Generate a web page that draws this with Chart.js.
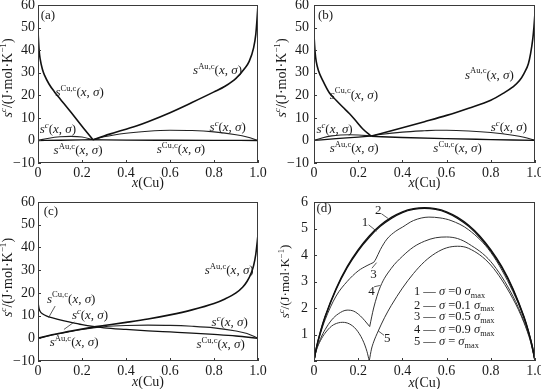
<!DOCTYPE html>
<html>
<head>
<meta charset="utf-8">
<script src="https://cdn.jsdelivr.net/npm/chart.js@4.4.1/dist/chart.umd.min.js"></script>
<style>
  html, body { margin: 0; padding: 0; background: #fff; }
  #wrap { position: relative; width: 541px; height: 389px; overflow: hidden; }
  #wrap canvas { position: absolute; left: 0; top: 0; }
</style>
</head>
<body>
<div id="wrap">
  <canvas id="pa" width="541" height="389"></canvas>
  <canvas id="pb" width="541" height="389"></canvas>
  <canvas id="pc" width="541" height="389"></canvas>
  <canvas id="pd" width="541" height="389"></canvas>
</div>
<script>
// tick labels
const xTicks = [0, 0.2, 0.4, 0.6, 0.8, 1.0];
const yTicksS = [-10, 0, 10, 20, 30, 40, 50, 60];
const yTicksD = [0, 1, 2, 3, 4, 5, 6];

// (a)
const aCuLX = [0, 0.005, 0.01, 0.02, 0.03, 0.05, 0.075, 0.1, 0.15, 0.2, 0.25];
const aCuLY = [48.5, 40, 36, 31.5, 28.8, 25, 21.5, 18.5, 12.5, 6.3, 0.3];
const aCuRX = [0.25, 0.4, 0.6, 0.8, 1.0];
const aCuRY = [0.3, 0.15, 0.08, 0.03, 0];
const aAuLX = [0, 0.1, 0.25];
const aAuLY = [0, 0.1, 0.3];
const aAuRX = [0.25, 0.3, 0.35, 0.4, 0.45, 0.5, 0.6, 0.7, 0.8, 0.85, 0.9, 0.94, 0.96, 0.98, 0.99, 0.995, 1.0];
const aAuRY = [0.3, 2.0, 3.5, 5.0, 6.5, 8.3, 12.3, 16.8, 21.5, 24.0, 27.5, 32.0, 35.0, 41.0, 47.0, 53.0, 60];
const aScLX = [0, 0.05, 0.1, 0.15, 0.2, 0.25];
const aScLY = [0, 1.0, 1.6, 1.8, 1.5, 0.3];
const aScRX = [0.25, 0.3, 0.4, 0.5, 0.6, 0.7, 0.8, 0.9, 0.95, 1.0];
const aScRY = [0.3, 1.6, 3.2, 4.1, 4.5, 4.4, 3.8, 2.5, 1.5, 0];

// (b)
const bCuLX = [0, 0.005, 0.01, 0.02, 0.04, 0.07, 0.1, 0.13, 0.16, 0.19, 0.22, 0.26];
const bCuLY = [46.5, 39, 35, 31, 26.5, 21, 17.8, 14.8, 11.9, 8.6, 5.2, 1.8];
const bCuRX = [0.26, 0.4, 0.6, 0.8, 1.0];
const bCuRY = [1.8, 1.3, 0.8, 0.4, 0];
const bAuLX = [0, 0.1, 0.2, 0.26];
const bAuLY = [0, 0.8, 1.5, 2.0];
const bAuRX = [0.26, 0.3, 0.4, 0.5, 0.6, 0.7, 0.8, 0.85, 0.9, 0.93, 0.95, 0.97, 0.98, 0.99, 0.995, 1.0];
const bAuRY = [2.0, 3.0, 5.6, 8.3, 11.1, 14.3, 17.8, 20.5, 23.7, 26.5, 29.6, 34, 38.5, 45, 50, 56.5];
const bScLX = [0, 0.04, 0.08, 0.12, 0.16, 0.2, 0.26];
const bScLY = [0, 1.2, 2.0, 2.4, 2.5, 2.4, 2.0];
const bScRX = [0.26, 0.3, 0.4, 0.5, 0.55, 0.6, 0.7, 0.8, 0.9, 0.95, 1.0];
const bScRY = [2.0, 2.6, 3.7, 4.3, 4.5, 4.5, 4.2, 3.5, 2.3, 1.4, 0];

// (c)
const cCuX = [0, 0.005, 0.01, 0.02, 0.04, 0.07, 0.1, 0.15, 0.2, 0.25, 0.3, 0.4, 0.5, 0.6, 0.7, 0.8, 0.9, 1.0];
const cCuY = [16, 13, 11.8, 10.8, 9.8, 8.9, 8.1, 7.0, 6.0, 5.2, 4.6, 3.9, 3.3, 2.8, 2.3, 1.7, 1.0, 0];
const cAuX = [0, 0.05, 0.1, 0.15, 0.2, 0.25, 0.3, 0.4, 0.5, 0.6, 0.7, 0.8, 0.85, 0.9, 0.93, 0.95, 0.97, 0.98, 0.99, 1.0];
const cAuY = [0, 1.2, 2.2, 3.2, 4.1, 4.9, 5.6, 7.0, 8.5, 10.3, 12.5, 15.3, 17.3, 20.0, 22.5, 25, 29, 32, 37, 45.5];
const cScX = [0, 0.05, 0.1, 0.15, 0.2, 0.25, 0.3, 0.4, 0.5, 0.6, 0.7, 0.8, 0.9, 0.95, 1.0];
const cScY = [0, 1.1, 2.1, 3.0, 3.9, 4.6, 5.1, 5.6, 5.8, 5.7, 5.3, 4.6, 3.2, 2.1, 0];

// (d)
const dX12 = [0, 0.01, 0.03, 0.05, 0.1, 0.15, 0.2, 0.25, 0.3, 0.35, 0.4, 0.45, 0.5, 0.55, 0.6, 0.65, 0.7, 0.75, 0.8, 0.85, 0.9, 0.95, 0.97, 0.99, 1.0];
const dY1 = [0, 0.47, 1.12, 1.65, 2.70, 3.52, 4.16, 4.67, 5.08, 5.38, 5.60, 5.72, 5.76, 5.72, 5.60, 5.38, 5.08, 4.67, 4.16, 3.52, 2.70, 1.65, 1.12, 0.47, 0];
const dY2 = [0, 0.48, 1.14, 1.68, 2.74, 3.56, 4.20, 4.72, 5.12, 5.42, 5.63, 5.75, 5.79, 5.75, 5.63, 5.42, 5.12, 4.72, 4.20, 3.56, 2.74, 1.68, 1.14, 0.48, 0];
const d3LX = [0, 0.01, 0.03, 0.05, 0.1, 0.15, 0.2, 0.24, 0.27];
const d3LY = [0, 0.45, 1.05, 1.55, 2.45, 3.0, 3.4, 3.6, 3.72];
const d3RX = [0.27, 0.28, 0.3, 0.33, 0.37, 0.4, 0.45, 0.52, 0.57, 0.62, 0.7, 0.8, 0.9, 0.95, 0.98, 1.0];
const d3RY = [3.72, 3.85, 4.2, 4.6, 4.9, 5.05, 5.3, 5.43, 5.4, 5.3, 4.95, 4.1, 2.62, 1.62, 0.8, 0];
const d4LX = [0, 0.01, 0.03, 0.05, 0.08, 0.11, 0.15, 0.18, 0.21, 0.23, 0.252];
const d4LY = [0, 0.4, 0.85, 1.18, 1.55, 1.78, 1.92, 1.88, 1.7, 1.52, 1.3];
const d4RX = [0.252, 0.27, 0.3, 0.35, 0.4, 0.45, 0.5, 0.55, 0.6, 0.65, 0.7, 0.8, 0.9, 0.95, 0.98, 1.0];
const d4RY = [1.3, 2.0, 2.8, 3.5, 3.95, 4.3, 4.52, 4.65, 4.68, 4.62, 4.42, 3.75, 2.45, 1.5, 0.75, 0];
const d5LX = [0, 0.01, 0.03, 0.05, 0.08, 0.11, 0.13, 0.16, 0.19, 0.22, 0.24, 0.25];
const d5LY = [0, 0.38, 0.78, 1.05, 1.32, 1.44, 1.46, 1.4, 1.2, 0.8, 0.35, 0];
const d5RX = [0.25, 0.26, 0.27, 0.29, 0.32, 0.35, 0.4, 0.45, 0.5, 0.55, 0.6, 0.65, 0.7, 0.8, 0.9, 0.95, 0.98, 1.0];
const d5RY = [0, 0.45, 0.72, 1.12, 1.65, 2.1, 2.75, 3.3, 3.75, 4.07, 4.27, 4.33, 4.25, 3.62, 2.35, 1.45, 0.72, 0];

const SERIF = '"Liberation Serif", "Times New Roman", serif';

// text with *italic*, ^{sup} and _{sub}
function parseRich(s) {
  const out = [];
  let it = false, i = 0;
  while (i < s.length) {
    const c = s[i];
    if (c === '*') { it = !it; i++; continue; }
    if ((c === '^' || c === '_') && s[i + 1] === '{') {
      const j = s.indexOf('}', i);
      let t = s.slice(i + 2, j);
      const sit = t.startsWith('*');
      t = t.replace(/\*/g, '');
      out.push({ t, mode: c === '^' ? 'sup' : 'sub', it: sit });
      i = j + 1;
      continue;
    }
    const last = out[out.length - 1];
    if (last && last.mode === 'n' && last.it === it) last.t += c;
    else out.push({ t: c, mode: 'n', it });
    i++;
  }
  return out;
}

function segFont(seg, size) {
  const sz = seg.mode === 'n' ? size : size * 0.66;
  return (seg.it ? 'italic ' : '') + sz.toFixed(1) + 'px ' + SERIF;
}

function richWidth(ctx, segs, size) {
  let w = 0;
  segs.forEach(sg => { ctx.font = segFont(sg, size); w += ctx.measureText(sg.t).width; });
  return w;
}

function drawRich(ctx, x, y, text, size) {
  const segs = parseRich(text);
  ctx.textBaseline = 'alphabetic';
  ctx.textAlign = 'left';
  segs.forEach(sg => {
    ctx.font = segFont(sg, size);
    let dy = 0;
    if (sg.mode === 'sup') dy = -size * 0.4;
    if (sg.mode === 'sub') dy = size * 0.22;
    ctx.fillText(sg.t, x, y + dy);
    x += ctx.measureText(sg.t).width;
  });
}

const decor = {
  id: 'decor',
  afterDraw(chart, args, o) {
    const { ctx, chartArea: ca } = chart;
    const sx = chart.scales.x, sy = chart.scales.y;
    ctx.save();
    ctx.strokeStyle = '#3a3a3a';
    ctx.lineWidth = 1;
    ctx.strokeRect(ca.left + 0.5, ca.top + 0.5, ca.right - ca.left - 1, ca.bottom - ca.top - 1);
    ctx.beginPath();
    o.xt.forEach(v => {
      const px = Math.round(sx.getPixelForValue(v)) + 0.5;
      ctx.moveTo(px, ca.bottom); ctx.lineTo(px, ca.bottom - 3);
    });
    o.yt.forEach(v => {
      const py = Math.round(sy.getPixelForValue(v)) + 0.5;
      ctx.moveTo(ca.left, py); ctx.lineTo(ca.left + 3, py);
    });
    ctx.stroke();

    ctx.fillStyle = '#1a1a1a';
    ctx.strokeStyle = '#333';
    ctx.lineWidth = 0.8;
    (o.leaders || []).forEach(l => {
      ctx.beginPath();
      ctx.moveTo(sx.getPixelForValue(l[0]), sy.getPixelForValue(l[1]));
      ctx.lineTo(sx.getPixelForValue(l[2]), sy.getPixelForValue(l[3]));
      ctx.stroke();
    });
    (o.labels || []).forEach(l => {
      drawRich(ctx, sx.getPixelForValue(l.x), sy.getPixelForValue(l.y), l.t, l.size || 13);
    });

    // axis titles
    const xt = parseRich(o.xTitle);
    const xw = richWidth(ctx, xt, 14);
    drawRich(ctx, (ca.left + ca.right) / 2 - xw / 2, ca.bottom + o.xTitleGap, o.xTitle, 14);

    const yt = parseRich(o.yTitle);
    const yw = richWidth(ctx, yt, o.yTitleSize);
    ctx.translate(ca.left - o.yTitleGap, (ca.top + ca.bottom) / 2 + o.yTitleShift);
    ctx.rotate(-Math.PI / 2);
    drawRich(ctx, -yw / 2, 4, o.yTitle, o.yTitleSize);
    ctx.restore();
  }
};

function pts(xs, ys) {
  return xs.map((x, i) => ({ x, y: ys[i] }));
}

function line(xs, ys, w, col) {
  return {
    data: pts(xs, ys),
    borderColor: col || '#111',
    borderWidth: w,
    pointRadius: 0,
    fill: false,
    tension: 0.4,
    cubicInterpolationMode: 'monotone'
  };
}

function makePanel(id, box, yMin, yMax, yTicks, datasets, deco) {
  const yFmt = v => (v < 0 ? '\u2212' + Math.abs(v) : (v === 0 && box.noY0 ? '' : String(v)));
  const xFmt = v => (v === 0 ? '0' : v.toFixed(1));
  return new Chart(document.getElementById(id), {
    type: 'line',
    data: { datasets },
    options: {
      responsive: false,
      animation: false,
      layout: {
        padding: { left: box.l - 30, top: box.t, right: 541 - box.r, bottom: 389 - box.b - 20 }
      },
      plugins: {
        legend: { display: false },
        tooltip: { enabled: false },
        decor: Object.assign({ xt: xTicks, yt: yTicks }, deco)
      },
      scales: {
        x: {
          type: 'linear', min: 0, max: 1,
          grid: { display: false, drawTicks: false }, border: { display: false },
          afterBuildTicks: s => { s.ticks = xTicks.map(v => ({ value: v })); },
          afterFit: s => { s.height = 20; s.paddingLeft = 0; s.paddingRight = 0; },
          ticks: {
            padding: 2, maxRotation: 0, autoSkip: false,
            color: '#1a1a1a', font: { family: SERIF, size: 14 },
            callback: xFmt
          }
        },
        y: {
          type: 'linear', min: yMin, max: yMax,
          grid: { display: false, drawTicks: false }, border: { display: false },
          afterBuildTicks: s => { s.ticks = yTicks.map(v => ({ value: v })); },
          afterFit: s => { s.width = 30; s.paddingTop = 0; s.paddingBottom = 0; },
          ticks: {
            padding: box.yPad, autoSkip: false,
            color: '#1a1a1a', font: { family: SERIF, size: 14 },
            callback: yFmt
          }
        }
      }
    },
    plugins: [decor]
  });
}

const CU = '*s*^{Cu,c}(*x*, *σ*)';
const AU = '*s*^{Au,c}(*x*, *σ*)';
const SC = '*s*^{*c*}(*x*, *σ*)';
const YT = '*s*^{*c*}/(J·mol·K^{−1})';

makePanel('pa', { l: 38, t: 5, r: 258, b: 163, yPad: 3 }, -10, 60, yTicksS, [
  line(aCuLX, aCuLY, 1.6), line(aCuRX, aCuRY, 1.4),
  line(aAuLX, aAuLY, 1.4), line(aAuRX, aAuRY, 1.6),
  line(aScLX, aScLY, 1.1, '#222'), line(aScRX, aScRY, 1.1, '#222')
], {
  xTitle: '*x*(Cu)', xTitleGap: 24, yTitle: YT, yTitleSize: 14, yTitleGap: 30, yTitleShift: -6,
  labels: [
    { x: 0.012, y: 54, t: '(a)' },
    { x: 0.079, y: 19.6, t: CU },
    { x: 0.705, y: 29.3, t: AU },
    { x: 0.008, y: 3.3, t: SC },
    { x: 0.071, y: -6.2, t: AU },
    { x: 0.78, y: 4.1, t: SC },
    { x: 0.54, y: -5.6, t: CU }
  ]
});

makePanel('pb', { l: 314, t: 5, r: 535, b: 163, yPad: 5 }, -10, 60, yTicksS, [
  line(bCuLX, bCuLY, 1.6), line(bCuRX, bCuRY, 1.3),
  line(bAuLX, bAuLY, 1.3), line(bAuRX, bAuRY, 1.6),
  line(bScLX, bScLY, 1.1, '#222'), line(bScRX, bScRY, 1.1, '#222')
], {
  xTitle: '*x*(Cu)', xTitleGap: 24, yTitle: YT, yTitleSize: 14, yTitleGap: 32, yTitleShift: -6,
  labels: [
    { x: 0.018, y: 54, t: '(b)' },
    { x: 0.071, y: 18.5, t: CU },
    { x: 0.683, y: 27.4, t: AU },
    { x: 0.011, y: 3.3, t: SC },
    { x: 0.071, y: -5.2, t: AU },
    { x: 0.80, y: 4.1, t: SC },
    { x: 0.54, y: -5.2, t: CU }
  ]
});

makePanel('pc', { l: 38, t: 202, r: 258, b: 361, yPad: 3 }, -10, 60, yTicksS, [
  line(cCuX, cCuY, 1.3), line(cAuX, cAuY, 1.6), line(cScX, cScY, 1.1, '#222')
], {
  xTitle: '*x*(Cu)', xTitleGap: 25, yTitle: YT, yTitleSize: 14, yTitleGap: 30, yTitleShift: -4,
  labels: [
    { x: 0.026, y: 54.2, t: '(c)' },
    { x: 0.041, y: 15.7, t: CU },
    { x: 0.154, y: 8.3, t: SC },
    { x: 0.053, y: -3.4, t: AU },
    { x: 0.758, y: 28.1, t: AU },
    { x: 0.789, y: 5.4, t: SC },
    { x: 0.72, y: -4.4, t: CU }
  ],
  leaders: [[0.078, 14.2, 0.048, 9.1], [0.165, 7.2, 0.118, 3.9]]
});

makePanel('pd', { l: 314, t: 202, r: 535, b: 361, yPad: 6, noY0: true }, 0, 6, yTicksD, [
  line(dX12, dY1, 1.3), line(dX12, dY2, 1.3),
  line(d3LX, d3LY, 1, '#333'), line(d3RX, d3RY, 1, '#333'),
  line(d4LX, d4LY, 1, '#333'), line(d4RX, d4RY, 1, '#333'),
  line(d5LX, d5LY, 1, '#333'), line(d5RX, d5RY, 1, '#333')
], {
  xTitle: '*x*(Cu)', xTitleGap: 26, yTitle: YT, yTitleSize: 13, yTitleGap: 29, yTitleShift: 0,
  labels: [
    { x: 0.011, y: 5.62, t: '(d)' },
    { x: 0.276, y: 5.55, t: '2' },
    { x: 0.216, y: 5.11, t: '1' },
    { x: 0.254, y: 3.12, t: '3' },
    { x: 0.246, y: 2.49, t: '4' },
    { x: 0.317, y: 0.72, t: '5' },
    { x: 0.452, y: 2.49, t: '1 — *σ* =0 *σ*_{max}', size: 12.5 },
    { x: 0.452, y: 1.98, t: '2 — *σ* =0.1 *σ*_{max}', size: 12.5 },
    { x: 0.452, y: 1.54, t: '3 — *σ* =0.5 *σ*_{max}', size: 12.5 },
    { x: 0.452, y: 1.04, t: '4 — *σ* =0.9 *σ*_{max}', size: 12.5 },
    { x: 0.452, y: 0.59, t: '5 — *σ* = *σ*_{max}', size: 12.5 }
  ],
  leaders: [
    [0.305, 5.56, 0.335, 5.38],
    [0.247, 5.14, 0.283, 4.9],
    [0.262, 3.5, 0.283, 3.71],
    [0.272, 2.8, 0.298, 2.85],
    [0.317, 0.97, 0.29, 1.14]
  ]
});
</script>
</body>
</html>
